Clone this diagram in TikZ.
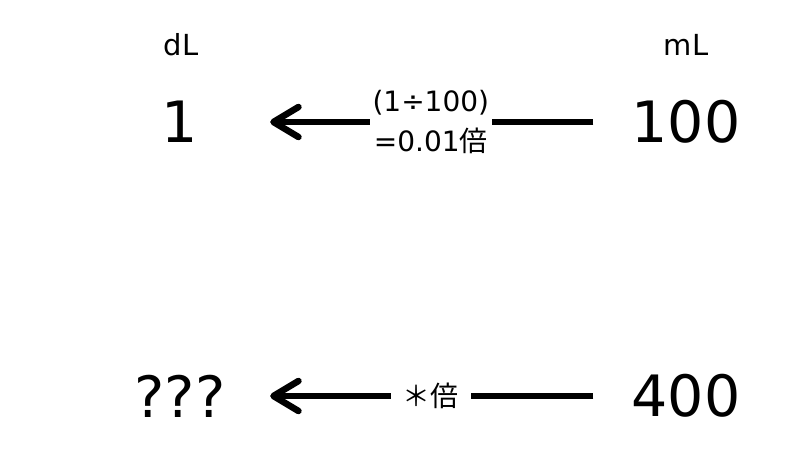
\documentclass[tikz,border=0pt]{standalone}
\usepackage{fontspec}
\setmainfont{DejaVu Sans}
\newfontfamily\cjk{Noto Sans CJK JP}
\usetikzlibrary{arrows.meta}

\begin{document}
\begin{tikzpicture}[x=1pt,y=-1pt,
    unit/.style={font=\fontsize{29}{29}\selectfont,inner sep=0pt},
    val/.style={font=\fontsize{57}{57}\selectfont,minimum width=100pt,inner sep=0pt},
    rate/.style={font=\fontsize{28}{40}\selectfont,fill=white,align=center,inner sep=3pt},
    conv/.style={line width=6.5pt,-{Straight Barb[length=25pt,width=30pt,round]},
                 shorten <=38pt,shorten >=40pt}]
    \useasboundingbox (0,0) rectangle (800,450);
    % units
    \node[unit] (dl) at (181,45) {dL};
    \node[unit] (ml) at (686,45) {mL};
    % values
    \node[val] (one) at (180,122) {1};
    \node[val] (hundred) at (686,122) {100};
    \node[val] (unknown) at (180,396) {???};
    \node[val] (fourhundred) at (686,396) {400};
    % conversions
    \draw[conv] (hundred) -- node[rate] (r1) {(1÷100)\\=0.01{\cjk 倍}} (one);
    \draw[conv] (fourhundred) -- node[rate,inner xsep=12pt] (r2) {{\cjk ＊倍}} (unknown);
\end{tikzpicture}
\end{document}
